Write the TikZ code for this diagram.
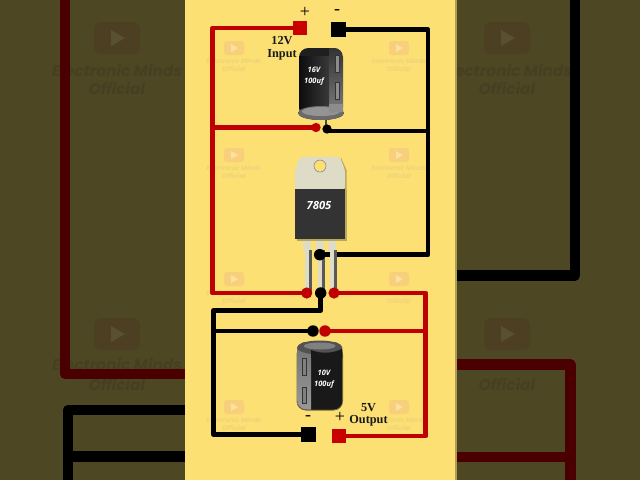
\documentclass[tikz,border=0pt]{standalone}
\usepackage{fontspec}
\setmainfont{Liberation Serif}
\newfontfamily\wmfont{Poppins}
\newfontfamily\capfont{Open Sans}
\pgfdeclarelayer{bglayer}
\pgfdeclarelayer{wirelayer}
\pgfsetlayers{bglayer,wirelayer,main}
\definecolor{panel}{HTML}{FDE074}
\definecolor{dimbg}{HTML}{4D4724}
\definecolor{dimred}{HTML}{4A0000}
\definecolor{wred}{HTML}{BE0000}
\definecolor{sred}{HTML}{C80000}
\definecolor{wmtext}{HTML}{EED478}
\definecolor{wmicon}{HTML}{F8CF7A}
\definecolor{wmplay}{HTML}{FCE2A0}
\definecolor{dimtext}{HTML}{463F21}
\definecolor{dimicon}{HTML}{4D4022}
\definecolor{dimplay}{HTML}{595030}
\definecolor{tabcol}{HTML}{DEDCC6}
\definecolor{shadowcol}{HTML}{B8A85A}
\tikzset{
  x=0.75pt,y=-0.75pt,
  redwire/.style={draw=wred,line width=3.6pt,line join=round},
  blackwire/.style={draw=black,line width=3.6pt,line join=round},
  bigred/.style={draw=dimred,line width=7.8pt,line join=round},
  bigblack/.style={draw=black,line width=7.8pt,line join=round},
  reddot/.style={circle,fill=wred,inner sep=0pt,minimum size=#1},
  blackdot/.style={circle,fill=black,inner sep=0pt,minimum size=#1},
  redsq/.style={rectangle,fill=sred,inner sep=0pt,minimum width=11.2pt,minimum height=10.8pt},
  blacksq/.style={rectangle,fill=black,inner sep=0pt,minimum width=11.2pt,minimum height=11.2pt},
  label/.style={font=\fontsize{9.2}{10}\selectfont\bfseries,text=black!90,inner sep=0pt},
  pol/.style={font=\fontsize{13.5}{13.5}\selectfont,text=black,inner sep=0pt},
  captext/.style={font=\capfont\bfseries\itshape\fontsize{5.6}{7}\selectfont,text=white,inner sep=0pt},
  wmsmall/.style={font=\wmfont\bfseries\itshape\fontsize{4.85}{5}\selectfont,text=wmtext,inner sep=0pt},
  wmbig/.style={font=\wmfont\bfseries\itshape\fontsize{11.5}{12}\selectfont,text=dimtext,inner sep=0pt},
}
\newcommand{\smicon}[2]{%
  \fill[wmicon,rounded corners=2pt] (#1-10,#2-7) rectangle (#1+10,#2+7);
  \fill[wmplay] (#1-3,#2-4) -- (#1+4,#2) -- (#1-3,#2+4) -- cycle;}
\newcommand{\bigicon}[2]{%
  \fill[dimicon,rounded corners=5pt] (#1-23,#2-16) rectangle (#1+23,#2+16);
  \fill[dimplay] (#1-6,#2-8) -- (#1+8,#2) -- (#1-6,#2+8) -- cycle;}
\begin{document}
\begin{tikzpicture}
\useasboundingbox (0,0) rectangle (640,480);

\begin{pgfonlayer}{bglayer}
  \fill[dimbg] (0,0) rectangle (640,480);
  % blurred backdrop, left
  \bigicon{117}{38}
  \bigicon{117}{334}
  \node[wmbig] (bl1) at (117,70) {Electronic Minds};
  \node[wmbig] (bl2) at (117,88) {Official};
  \node[wmbig] (bl3) at (117,364) {Electronic Minds};
  \node[wmbig] (bl4) at (117,384) {Official};
  \draw[bigred] (65,0) -- (65,374) -- (190,374);
  \draw[bigblack] (190,410) -- (68,410) -- (68,480);
  \draw[bigblack] (68,456.5) -- (190,456.5);
  % blurred backdrop, right
  \bigicon{507}{38}
  \bigicon{507}{334}
  \node[wmbig] (br1) at (507,70) {Electronic Minds};
  \node[wmbig] (br2) at (507,88) {Official};
  \node[wmbig] (br3) at (507,384) {Official};
  \draw[bigblack] (575,0) -- (575,275.5) -- (450,275.5);
  \draw[bigred] (450,364.5) -- (570.5,364.5) -- (570.5,480);
  \draw[bigred] (450,457) -- (570.5,457);
  % panel
  \fill[panel] (185,0) rectangle (455,480);
  \fill[panel!70!black] (455,0) rectangle (456.5,480);
  % small watermarks
  \foreach \wx/\wy in {234/48,399/48,234/155,399/155,234/279,399/279,234/407,399/407}{\smicon{\wx}{\wy}}
  \node[wmsmall] (w1a) at (234,61) {Electronic Minds};
  \node[wmsmall] (w1b) at (234,69) {Official};
  \node[wmsmall] (w2a) at (399,61) {Electronic Minds};
  \node[wmsmall] (w2b) at (399,69) {Official};
  \node[wmsmall] (w3a) at (234,168) {Electronic Minds};
  \node[wmsmall] (w3b) at (234,176) {Official};
  \node[wmsmall] (w4a) at (399,168) {Electronic Minds};
  \node[wmsmall] (w4b) at (399,176) {Official};
  \node[wmsmall] (w5a) at (234,293) {Electronic Minds};
  \node[wmsmall] (w5b) at (234,301) {Official};
  \node[wmsmall] (w6b) at (399,301) {Official};
  \node[wmsmall] (w7a) at (234,420) {Electronic Minds};
  \node[wmsmall] (w7b) at (234,428) {Official};
  \node[wmsmall] (w8a) at (399,420) {Electronic Minds};
  \node[wmsmall] (w8b) at (399,428) {Official};
\end{pgfonlayer}

% input capacitor
\fill[gray!60!black] (325,115) rectangle (327,128);
\fill[black!90] (321,113) ellipse (23 and 7);
\begin{scope}
  \clip[rounded corners=7pt] (299,48) rectangle (343,116);
  \fill[black!88] (299,48) rectangle (343,116);
  \shade[top color=black!80,bottom color=black!50] (329,48) rectangle (343,116);
  \shade[left color=black!95,right color=black!78] (299,56) rectangle (329,116);
\end{scope}
\fill[black!58] (321,113) ellipse (23 and 7);
\fill[black!42] (321,111.5) ellipse (19 and 4.5);
\fill[black!45] (329,104) -- (343,104) -- (343,112) -- (329,113) -- cycle;
\draw[black!80,line width=0.5pt,fill=black!45] (335,55) rectangle (339,72);
\draw[black!80,line width=0.5pt,fill=black!45] (335,82) rectangle (339,99);
\node[captext] (c1a) at (314,70) {16V};
\node[captext] (c1b) at (314,82) {100uf};

% output capacitor
\fill[shadowcol!60!black,rounded corners=7pt] (296.5,345) rectangle (343,410.5);
\begin{scope}
  \clip[rounded corners=7pt] (297,342) rectangle (342.5,409.5);
  \fill[black!90] (297,342) rectangle (343,410);
  \shade[top color=black!55,bottom color=black!40] (297,342) rectangle (311,410);
\end{scope}
\fill[black!68] (319.7,347.5) ellipse (22.7 and 7);
\fill[black!50] (319.7,346) ellipse (16 and 3.5);
\fill[black!90] (311,350) .. controls (322,354.5) and (335,353) .. (342.4,348.5) -- (342.4,358) -- (311,358) -- cycle;
\draw[black!80,line width=0.5pt,fill=black!50] (302,358) rectangle (306,375);
\draw[black!80,line width=0.5pt,fill=black!50] (302,387) rectangle (306,403);
\node[captext] (c2a) at (324,373) {10V};
\node[captext] (c2b) at (324,385) {100uf};

% regulator
\foreach \lx in {304,317,329}{
  \fill[tabcol] (\lx-1,238) rectangle (\lx+7,251);
  \fill[tabcol] (\lx+0.5,250) rectangle (\lx+7,292);
  \fill[black!65] (\lx+4.5,250) rectangle (\lx+7.5,292);
}
\fill[shadowcol] (296.5,190) rectangle (346.5,240.5);
\fill[shadowcol] (341,157.5) -- (346.5,170) -- (346.5,190) -- (340,190) -- cycle;
\fill[tabcol,rounded corners=1.5pt] (295,189) -- (295,170) -- (300,157) -- (340,157) -- (345,170) -- (345,189) -- cycle;
\fill[black!80] (295,188.5) rectangle (345,239);
\fill[panel,draw=black!45,line width=0.5pt] (320,166) circle (6);
\node[font=\capfont\bfseries\itshape\fontsize{8.4}{10}\selectfont,text=white,inner sep=0pt] (chip) at (319,205) {7805};

% terminals and junctions
\node[redsq] (inP) at (300,28) {};
\node[blacksq] (inN) at (338.5,29.5) {};
\node[blacksq] (outN) at (308.5,434.5) {};
\node[redsq] (outP) at (339,436) {};
\node[reddot=7pt] (capP) at (316,127.5) {};
\node[blackdot=7pt] (capN) at (327,129) {};
\node[blackdot=8.6pt] (gndT) at (319.7,254.7) {};
\node[reddot=8.4pt] (regIn) at (306.7,293) {};
\node[blackdot=8.6pt] (regG) at (320.7,293) {};
\node[reddot=8.4pt] (regOut) at (334,293) {};
\node[blackdot=8.6pt] (cap2N) at (313,331) {};
\node[reddot=8.6pt] (cap2P) at (325,331) {};

\coordinate (leftR) at (212.5,100);
\coordinate (rightK) at (428,100);
\coordinate (leftK) at (213.5,400);
\coordinate (rightR) at (425.7,400);
\coordinate (kneeG) at (320.7,310.5);

\begin{pgfonlayer}{wirelayer}
  \draw[redwire] (inP.center) -| (leftR) |- (regIn.center);
  \draw[redwire] (capP.center) -- (capP.center -| leftR);
  \draw[blackwire] (inN.center) -| (rightK) |- (gndT.center);
  \draw[blackwire] (capN.center |- 0,131) -- (rightK |- 0,131);
  \draw[blackwire] (regG.center) -- (kneeG) -| (leftK) |- (outN.center);
  \draw[blackwire] (cap2N.center) -- (cap2N.center -| leftK);
  \draw[redwire] (regOut.center) -| (rightR) |- (outP.center);
  \draw[redwire] (cap2P.center) -- (cap2P.center -| rightR);
\end{pgfonlayer}

% labels
\node[label] (l12) at (282,41) {12V};
\node[label] (lin) at (282,55) {Input};
\node[label] (l5) at (368.5,408) {5V};
\node[label] (lout) at (368.5,421) {Output};
\node[pol] (pTop) at (305,12.5) {+};
\node[pol] (mTop) at (337,12.5) {-};
\node[pol] (mBot) at (308,418) {-};
\node[pol] (pBot) at (340,417.5) {+};
\end{tikzpicture}
\end{document}
